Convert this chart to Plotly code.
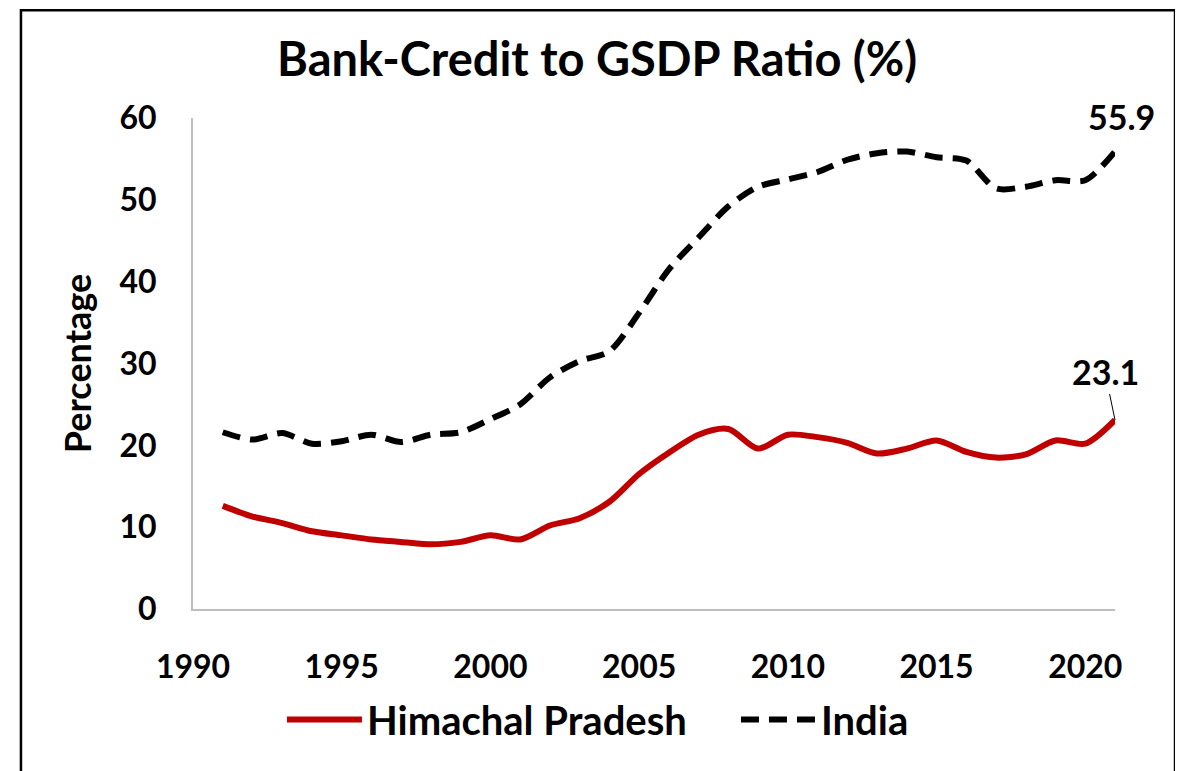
import plotly.graph_objects as go

years = list(range(1991, 2022))
himachal = [12.6, 11.3, 10.5, 9.5, 9.0, 8.5, 8.2, 7.9, 8.2, 9.0,
            8.5, 10.2, 11.1, 13.1, 16.5, 19.1, 21.3, 22.0, 19.6, 21.3,
            21.0, 20.3, 19.0, 19.6, 20.6, 19.2, 18.5, 18.9, 20.6, 20.2,
            23.1]
india = [21.6, 20.7, 21.5, 20.2, 20.5, 21.3, 20.4, 21.3, 21.6, 23.2,
         25.0, 28.3, 30.3, 31.5, 36.2, 41.5, 45.4, 49.2, 51.6, 52.5,
         53.4, 54.9, 55.7, 55.9, 55.2, 54.8, 51.4, 51.6, 52.4, 52.4,
         55.9]
x_ticks = [1990, 1995, 2000, 2005, 2010, 2015, 2020]
y_ticks = [0, 10, 20, 30, 40, 50, 60]

FONT = "Lato"

fig = go.Figure()
fig.add_trace(go.Scatter(
    x=years, y=himachal, mode="lines", name="Himachal Pradesh",
    line=dict(color="#c00000", width=6, shape="spline", smoothing=0.8),
))
fig.add_trace(go.Scatter(
    x=years, y=india, mode="lines", name="India",
    line=dict(color="#000000", width=6, shape="spline", smoothing=0.8, dash="18px,10px"),
))

fig.add_annotation(x=years[-1], y=india[-1], text="55.9", showarrow=False,
                   xshift=6, yshift=35,
                   font=dict(family=FONT, size=34, color="black", weight="bold"))
fig.add_annotation(x=years[-1], y=himachal[-1], text="23.1", showarrow=True,
                   arrowhead=0, arrowwidth=1, arrowcolor="black", standoff=0,
                   ax=-10, ay=-48,
                   font=dict(family=FONT, size=34, color="black", weight="bold"))

# outer chart border
fig.add_shape(type="rect", xref="paper", yref="paper",
              x0=-0.1866, x1=1.0651, y0=-0.40, y1=1.2195,
              line=dict(color="black", width=2.5), fillcolor="rgba(0,0,0,0)", layer="below")

fig.update_layout(
    width=1183, height=771,
    paper_bgcolor="white", plot_bgcolor="white",
    margin=dict(l=185, r=76, t=110, b=170, autoexpand=False),
    title=dict(text="Bank-Credit to GSDP Ratio (%)", x=0.498, xref="container",
               y=1 - 52 / 771, yref="container", xanchor="center", yanchor="middle",
               font=dict(family=FONT, size=47, color="black", weight="bold")),
    font=dict(family=FONT, color="black"),
    showlegend=True,
    legend=dict(orientation="h", x=0.0965, xanchor="left", y=-0.225, yanchor="middle",
                font=dict(family=FONT, size=40, color="black", weight="bold"),
                itemwidth=75, entrywidth=364, entrywidthmode="pixels",
                bgcolor="rgba(0,0,0,0)"),
)
fig.update_xaxes(range=[1990, 2021], tickvals=x_ticks, ticktext=[str(v) for v in x_ticks],
                 showgrid=False, zeroline=False, showline=True, linecolor="#bfbfbf", linewidth=2,
                 ticks="", ticklabelstandoff=29,
                 tickfont=dict(family=FONT, size=32, color="black", weight="bold"))
fig.update_yaxes(range=[0, 60], tickvals=y_ticks, ticktext=[str(v) for v in y_ticks],
                 showgrid=False, zeroline=False, showline=True, linecolor="#bfbfbf", linewidth=2,
                 ticks="", ticklabelstandoff=28,
                 tickfont=dict(family=FONT, size=32, color="black", weight="bold"),
                 title=dict(text="Percentage", standoff=17,
                            font=dict(family=FONT, size=36, color="black", weight="bold")))

fig.write_html("out.html")
